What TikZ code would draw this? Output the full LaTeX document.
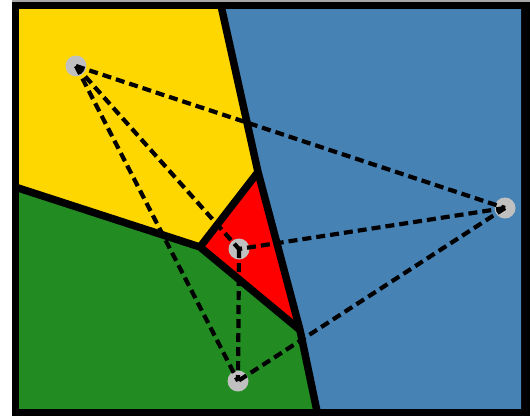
\documentclass[tikz,border=0pt]{standalone}
\definecolor{vyellow}{HTML}{FFD700}
\definecolor{vblue}{HTML}{4682B4}
\definecolor{vred}{HTML}{FF0000}
\definecolor{vgreen}{HTML}{228B22}
\definecolor{sitegray}{HTML}{C0C0C0}
\tikzset{
  vedge/.style={line width=7.5pt, line join=miter, line cap=butt},
  dedge/.style={line width=4.2pt, dash pattern=on 9pt off 5pt},
  site/.style={circle, fill=sitegray, minimum size=21pt, inner sep=0pt, draw=none}
}
\begin{document}
\begin{tikzpicture}[x=1pt,y=-1pt]
\useasboundingbox (0,0) rectangle (530,416);
\fill[white] (0,0) rectangle (530,416);
\fill[gray!70] (12,0) rectangle (530,1.5);
\fill[black] (12,1.5) rectangle (530,416);
% vertices
\coordinate (top) at (220,1);
\coordinate (yrb) at (258,172);
\coordinate (ygr) at (200,247);
\coordinate (rgb) at (300,330);
\coordinate (bot) at (318,416);
\coordinate (lft) at (12,186);
\begin{scope}
\clip (19,9) rectangle (521,408);
\fill[vyellow] (12,1) -- (top) -- (yrb) -- (ygr) -- (lft) -- cycle;
\fill[vblue] (top) -- (530,1) -- (530,416) -- (bot) -- (rgb) -- (yrb) -- cycle;
\fill[vgreen] (lft) -- (ygr) -- (rgb) -- (bot) -- (12,416) -- cycle;
\fill[vred] (yrb) -- (ygr) -- (rgb) -- cycle;
\draw[vedge] (top) -- (yrb) -- (rgb) -- (bot);
\draw[vedge] (lft) -- (ygr) -- (rgb);
\draw[vedge] (ygr) -- (yrb);
\end{scope}
% sites
\node[site] (A) at (76,66) {};
\node[site] (B) at (505,208) {};
\node[site] (C) at (239,249) {};
\node[site] (D) at (238,381) {};
\draw[dedge] (A.center) -- (B.center);
\draw[dedge] (A.center) -- (C.center);
\draw[dedge] (A.center) -- (D.center);
\draw[dedge] (B.center) -- (C.center);
\draw[dedge] (B.center) -- (D.center);
\draw[dedge] (C.center) -- (D.center);
\end{tikzpicture}
\end{document}
